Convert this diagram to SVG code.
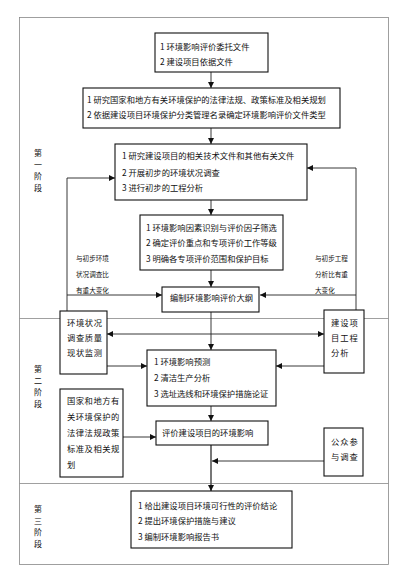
<svg xmlns="http://www.w3.org/2000/svg" width="410" height="577" viewBox="0 0 410 577">
<style>
text{font-family:"Noto Sans CJK SC","Noto Sans",sans-serif;fill:#111}
.t{font-size:8.3px}
.s{font-size:6.6px}
.g{font-size:8px;text-anchor:middle}
.box{fill:#fff;stroke:#111;stroke-width:1.1}
.frame{fill:none;stroke:#888;stroke-width:0.8}
.c{fill:none;stroke:#222;stroke-width:0.9}
</style>
<defs>
<marker id="ah" viewBox="0 0 10 10" refX="10" refY="5" markerWidth="7" markerHeight="6" markerUnits="userSpaceOnUse" orient="auto-start-reverse">
<path d="M0,0 L10,5 L0,10 z" fill="#111"/>
</marker>
</defs>
<rect width="410" height="577" fill="#fff"/>
<g id="frame">
<rect class="frame" x="19.5" y="17.5" width="369" height="547"/>
<line class="frame" x1="19.5" y1="318.5" x2="388.5" y2="318.5"/>
<line class="frame" x1="19.5" y1="483.5" x2="388.5" y2="483.5"/>
</g>
<g id="stage1"><text class="g"><tspan x="38" y="156">第</tspan><tspan x="38" y="167.7">一</tspan><tspan x="38" y="179.4">阶</tspan><tspan x="38" y="191.1">段</tspan></text></g>
<g id="stage2"><text class="g"><tspan x="38" y="372">第</tspan><tspan x="38" y="383.7">二</tspan><tspan x="38" y="395.4">阶</tspan><tspan x="38" y="407.1">段</tspan></text></g>
<g id="stage3"><text class="g"><tspan x="38" y="512">第</tspan><tspan x="38" y="523.7">三</tspan><tspan x="38" y="535.4">阶</tspan><tspan x="38" y="547.1">段</tspan></text></g>

<g id="connectors">
<line class="c" x1="211" y1="72" x2="211" y2="88" marker-end="url(#ah)"/>
<line class="c" x1="211" y1="128" x2="211" y2="144" marker-end="url(#ah)"/>
<line class="c" x1="211" y1="200" x2="211" y2="215" marker-end="url(#ah)"/>
<line class="c" x1="211" y1="270" x2="211" y2="287" marker-end="url(#ah)"/>
<polyline class="c" points="67,311 67,178 115,178" marker-end="url(#ah)"/>
<line class="c" x1="67" y1="295" x2="162" y2="295" marker-end="url(#ah)"/>
<polyline class="c" points="356,310 356,168 307,168" marker-end="url(#ah)"/>
<line class="c" x1="356" y1="295" x2="260" y2="295" marker-end="url(#ah)"/>
<line class="c" x1="211" y1="312" x2="211" y2="350" marker-end="url(#ah)"/>
<line class="c" x1="107" y1="334" x2="324" y2="334" marker-start="url(#ah)" marker-end="url(#ah)"/>
<line class="c" x1="107" y1="366" x2="147" y2="366" marker-end="url(#ah)"/>
<line class="c" x1="324" y1="366" x2="276" y2="366" marker-end="url(#ah)"/>
<line class="c" x1="211" y1="406" x2="211" y2="421" marker-end="url(#ah)"/>
<line class="c" x1="123" y1="437" x2="156" y2="437" marker-end="url(#ah)"/>
<line x1="211" y1="445" x2="211" y2="491" stroke="#555" stroke-width="1.6" marker-end="url(#ah)"/>
<line class="c" x1="324" y1="461" x2="212" y2="461" marker-end="url(#ah)"/>
<text class="s"><tspan x="76" y="261">与初步环境</tspan><tspan x="76" y="277">状况调查比</tspan><tspan x="76" y="292.5">有重大变化</tspan></text>
<text class="s"><tspan x="315" y="261">与初步工程</tspan><tspan x="315" y="277">分析比有重</tspan><tspan x="315" y="292.5">大变化</tspan></text>
</g>

<g id="n1"><rect class="box" x="155" y="33" width="113" height="39"/>
<text class="t"><tspan x="160" y="50">1 环境影响评价委托文件</tspan><tspan x="160" y="65">2 建设项目依据文件</tspan></text></g>
<g id="n2"><rect class="box" x="83" y="88" width="257" height="40"/>
<text class="t"><tspan x="87" y="103">1 研究国家和地方有关环境保护的法律法规、政策标准及相关规划</tspan><tspan x="87" y="118">2 依据建设项目环境保护分类管理名录确定环境影响评价文件类型</tspan></text></g>
<g id="n3"><rect class="box" x="115" y="144" width="192" height="56"/>
<text class="t"><tspan x="122" y="159">1 研究建设项目的相关技术文件和其他有关文件</tspan><tspan x="122" y="176">2 开展初步的环境状况调查</tspan><tspan x="122" y="191">3 进行初步的工程分析</tspan></text></g>
<g id="n4"><rect class="box" x="140" y="215" width="143" height="55"/>
<text class="t"><tspan x="146" y="231">1 环境影响因素识别与评价因子筛选</tspan><tspan x="146" y="246">2 确定评价重点和专项评价工作等级</tspan><tspan x="146" y="262">3 明确各专项评价范围和保护目标</tspan></text></g>
<g id="n5"><rect class="box" x="162" y="287" width="97" height="25"/>
<text class="t" x="170" y="301">编制环境影响评价大纲</text></g>
<g id="n6"><rect class="box" x="60" y="311" width="47" height="63"/>
<text class="t" letter-spacing="0.6"><tspan x="67" y="326">环境状况</tspan><tspan x="67" y="341">调查质量</tspan><tspan x="67" y="356">现状监测</tspan></text></g>
<g id="n7"><rect class="box" x="324" y="310" width="40" height="63"/>
<text class="t" letter-spacing="1"><tspan x="331" y="326">建设项</tspan><tspan x="331" y="341">目工程</tspan><tspan x="331" y="356">分析</tspan></text></g>
<g id="n8"><rect class="box" x="147" y="350" width="129" height="56"/>
<text class="t"><tspan x="154" y="365">1 环境影响预测</tspan><tspan x="154" y="381">2 清洁生产分析</tspan><tspan x="154" y="397">3 选址选线和环境保护措施论证</tspan></text></g>
<g id="n9"><rect class="box" x="60" y="389" width="63" height="88"/>
<text class="t" letter-spacing="0.5"><tspan x="67" y="404">国家和地方有</tspan><tspan x="67" y="420">关环境保护的</tspan><tspan x="67" y="436">法律法规政策</tspan><tspan x="67" y="452">标准及相关规</tspan><tspan x="67" y="468">划</tspan></text></g>
<g id="n10"><rect class="box" x="156" y="421" width="112" height="24"/>
<text class="t" x="162" y="436">评价建设项目的环境影响</text></g>
<g id="n11"><rect class="box" x="324" y="428" width="39" height="48"/>
<text class="t" letter-spacing="1"><tspan x="331" y="445">公众参</tspan><tspan x="331" y="460">与调查</tspan></text></g>
<g id="n12"><rect class="box" x="131" y="491" width="161" height="57"/>
<text class="t"><tspan x="138" y="509">1 给出建设项目环境可行性的评价结论</tspan><tspan x="138" y="524">2 提出环境保护措施与建议</tspan><tspan x="138" y="540">3 编制环境影响报告书</tspan></text></g>
</svg>
